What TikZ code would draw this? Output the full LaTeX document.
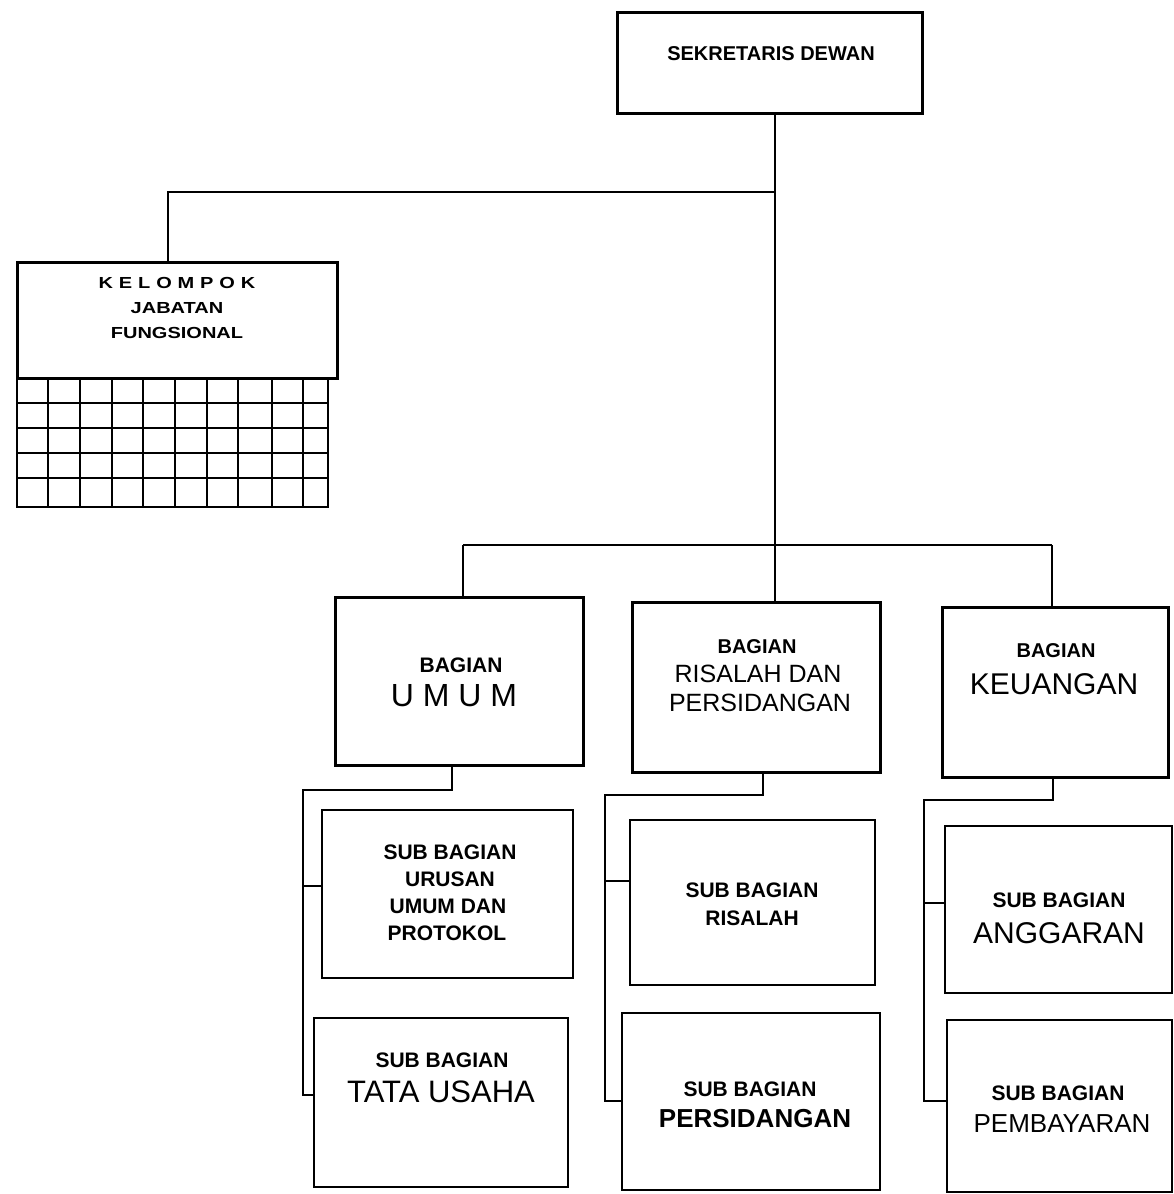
\documentclass[tikz,border=0pt]{standalone}
\usepackage{fontspec}
\usepackage{graphicx}
\setmainfont{Liberation Sans}
\begin{document}
\begin{tikzpicture}[x=1pt,y=-1pt,
  mainbox/.style={draw, line width=3pt, inner sep=0pt},
  subbox/.style={draw, line width=1.8pt, inner sep=0pt},
  conn/.style={line width=1.8pt, line join=miter},
  gridline/.style={line width=1.3pt},
  lbl/.style={inner sep=0pt, font=\fontsize{21}{25}\selectfont\bfseries},
  lblb/.style={inner sep=0pt, font=\fontsize{#1}{#1}\selectfont\bfseries},
  big/.style={inner sep=0pt, font=\fontsize{#1}{#1}\selectfont}]
\fill[white] (0,0) rectangle (1174,1194);
\useasboundingbox (0,0) rectangle (1174,1194);

% boxes
\node[mainbox, minimum width=305pt, minimum height=101pt] (sek) at (769.5,62.5) {};
\node[mainbox, minimum width=320pt, minimum height=116pt] (kel) at (177,320) {};
\node[subbox, minimum width=311pt, minimum height=129pt] (grid) at (172.5,442.5) {};
\node[mainbox, minimum width=248pt, minimum height=168pt] (umum) at (459,681) {};
\node[mainbox, minimum width=248pt, minimum height=170pt] (ris) at (756,687) {};
\node[mainbox, minimum width=226pt, minimum height=170pt] (keu) at (1055,692) {};
\node[subbox, minimum width=251pt, minimum height=168pt] (s1) at (447.5,894) {};
\node[subbox, minimum width=254pt, minimum height=169pt] (s2) at (441,1102.5) {};
\node[subbox, minimum width=245pt, minimum height=165pt] (s3) at (752.5,902.5) {};
\node[subbox, minimum width=258pt, minimum height=177pt] (s4) at (751,1101.5) {};
\node[subbox, minimum width=227pt, minimum height=167pt] (s5) at (1058.5,909.5) {};
\node[subbox, minimum width=225pt, minimum height=172pt] (s6) at (1059.5,1106) {};

% grid cells
\foreach \gx in {48,80,112,143,175,207,238,272,303}
  \draw[gridline] (\gx,378) -- (\gx,507);
\foreach \gy in {403,428,453,478}
  \draw[gridline] (17,\gy) -- (328,\gy);

% texts
\node[lblb=20] (sek-t) at (771,54) {SEKRETARIS DEWAN};
\node[inner sep=0pt] (kel-t) at (177,308) {\scalebox{1.25}[1]{\fontsize{16}{25}\selectfont\bfseries
  \begin{tabular}{@{}c@{}}K\hspace{4.7pt}E\hspace{4.7pt}L\hspace{4.7pt}O\hspace{4.7pt}M\hspace{4.7pt}P\hspace{4.7pt}O\hspace{4.7pt}K\\JABATAN\\FUNGSIONAL\end{tabular}}};

\node[lbl] (umum-t1) at (461,665) {BAGIAN};
\node[big=32] (umum-t2) at (454,696) {U M U M};

\node[lblb=20] (ris-t1) at (757,647) {BAGIAN};
\node[big=25] (ris-t2) at (758,674) {RISALAH DAN};
\node[big=25] (ris-t3) at (760,703) {PERSIDANGAN};

\node[lblb=20] (keu-t1) at (1056,651) {BAGIAN};
\node[big=30] (keu-t2) at (1054,684) {KEUANGAN};

\node[lbl] (s1-t1) at (450,852) {SUB BAGIAN};
\node[lbl] (s1-t2) at (450,879) {URUSAN};
\node[lbl] (s1-t3) at (448,906) {UMUM DAN};
\node[lbl] (s1-t4) at (447,933) {PROTOKOL};

\node[lbl] (s2-t1) at (442,1060) {SUB BAGIAN};
\node[big=31] (s2-t2) at (441,1092) {TATA USAHA};

\node[lbl] (s3-t1) at (752,890) {SUB BAGIAN};
\node[lbl] (s3-t2) at (752,918) {RISALAH};

\node[lbl] (s4-t1) at (750,1089) {SUB BAGIAN};
\node[lblb=26] (s4-t2) at (755,1119) {PERSIDANGAN};

\node[lbl] (s5-t1) at (1059,900) {SUB BAGIAN};
\node[big=30] (s5-t2) at (1059,933) {ANGGARAN};

\node[lbl] (s6-t1) at (1058,1093) {SUB BAGIAN};
\node[big=26] (s6-t2) at (1062,1124) {PEMBAYARAN};

% connectors
\coordinate (spine) at (775,545);
\coordinate (kj) at (775,192);
\coordinate (kelj) at (168,192);
\coordinate (bl) at (463,545);
\coordinate (br) at (1052,545);
\draw[conn] (sek.south -| spine) -- (spine);
\draw[conn] (kj) -- (kelj) -- (kelj |- kel.north);
\draw[conn] (bl) -- (br);
\draw[conn] (bl) -- (bl |- umum.north);
\draw[conn] (spine) -- (spine |- ris.north);
\draw[conn] (br) -- (br |- keu.north);

% umum subs
\coordinate (ua) at (452,790);
\coordinate (ub) at (303,790);
\coordinate (uc) at (303,1095);
\coordinate (ud) at (303,886);
\draw[conn] (ua |- umum.south) -- (ua) -- (ub) -- (uc) -- (uc -| s2.west);
\draw[conn] (ud) -- (ud -| s1.west);

% risalah subs
\coordinate (ra) at (763,795);
\coordinate (rb) at (605,795);
\coordinate (rc) at (605,1101);
\coordinate (rd) at (605,881);
\draw[conn] (ra |- ris.south) -- (ra) -- (rb) -- (rc) -- (rc -| s4.west);
\draw[conn] (rd) -- (rd -| s3.west);

% keuangan subs
\coordinate (ka) at (1053,800);
\coordinate (kb) at (924,800);
\coordinate (kc) at (924,1101);
\coordinate (kd) at (924,903);
\draw[conn] (ka |- keu.south) -- (ka) -- (kb) -- (kc) -- (kc -| s6.west);
\draw[conn] (kd) -- (kd -| s5.west);
\end{tikzpicture}
\end{document}
